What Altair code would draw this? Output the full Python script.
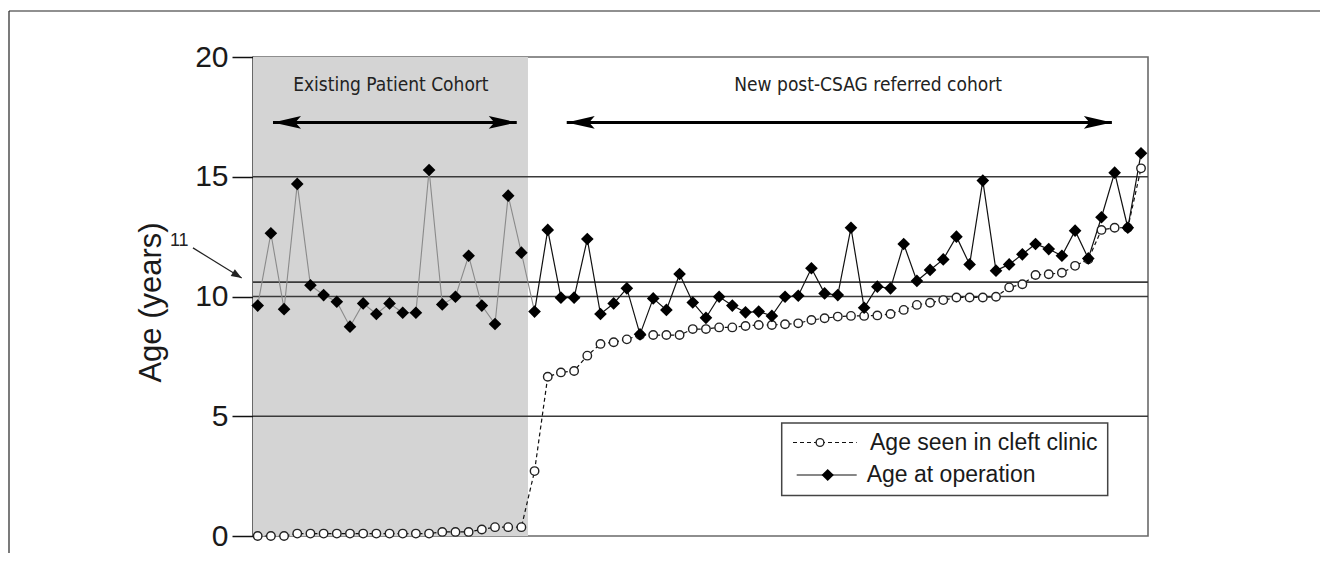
import altair as alt
import pandas as pd

# ---------------- data ----------------
patient = list(range(1, 69))

age_seen_clinic = [
    0.0, 0.0, 0.0, 0.1, 0.1, 0.1, 0.1, 0.1, 0.1, 0.1, 0.1, 0.1, 0.1, 0.1,
    0.17, 0.17, 0.17, 0.27, 0.37, 0.37, 0.37,
    2.71, 6.65, 6.83, 6.89, 7.53, 8.02, 8.09, 8.21, 8.39, 8.39, 8.39, 8.39,
    8.64, 8.64, 8.71, 8.71, 8.77, 8.81, 8.81, 8.84, 8.88, 9.02, 9.09, 9.16,
    9.19, 9.19, 9.21, 9.27, 9.44, 9.65, 9.74, 9.85, 9.96, 9.96, 9.96, 9.99,
    10.38, 10.51, 10.90, 10.93, 10.99, 11.28, 11.55, 12.78, 12.87, 12.87, 15.35,
]

age_at_operation = [
    9.62, 12.64, 9.47, 14.70, 10.47, 10.06, 9.78, 8.74, 9.71, 9.27, 9.71,
    9.32, 9.32, 15.28, 9.67, 9.99, 11.70, 9.62, 8.85, 14.21, 11.83,
    9.37, 12.78, 9.95, 9.95, 12.40, 9.27, 9.71, 10.34, 8.42, 9.92, 9.44,
    10.94, 9.75, 9.11, 9.99, 9.62, 9.34, 9.37, 9.19, 9.99, 10.03, 11.18,
    10.13, 10.06, 12.87, 9.53, 10.41, 10.34, 12.19, 10.65, 11.11, 11.55,
    12.50, 11.34, 14.84, 11.08, 11.34, 11.76, 12.19, 11.98, 11.70, 12.75,
    11.59, 13.31, 15.17, 12.87, 15.98,
]

reference_lines = [5, 10, 15, 10.6]          # horizontal lines (10.6 = the "11" marker line)
existing_cohort_span = [0.6435, 21.5]         # shaded band (patients of the existing cohort)
x_domain = [0.6435, 68.53]
y_ticks = [0, 5, 10, 15, 20]

cohort_labels = ["Existing Patient Cohort", "New post-CSAG referred cohort"]
cohort_label_x = [11.1, 47.3]
cohort_label_y = [18.83, 18.83]
arrow_left = [2.16, 24.44]
arrow_right = [20.65, 65.79]
arrow_y = [17.27, 17.27]

# ---------------- frames ----------------
df = pd.DataFrame({"patient": patient, "clinic": age_seen_clinic, "operation": age_at_operation})
band = pd.DataFrame({"x": [existing_cohort_span[0]], "x2": [existing_cohort_span[1]], "y": [0], "y2": [20]})
hlines = pd.DataFrame({"y": reference_lines})
labels = pd.DataFrame({"label": cohort_labels, "x": cohort_label_x, "y": cohort_label_y})
arrows = pd.DataFrame({"x": arrow_left, "x2": arrow_right, "y": arrow_y})
heads = pd.DataFrame({
    "x": arrow_left + arrow_right,
    "y": arrow_y + arrow_y,
    "side": ["L", "L", "R", "R"],
})
eleven_arrow = pd.DataFrame({"x": [-3.91], "x2": [-0.214], "y": [12.03], "y2": [10.77]})
eleven_head = pd.DataFrame({"x": [-0.214], "y": [10.77]})
eleven_text = pd.DataFrame({"x": [-4.95], "y": [12.3], "t": ["11"]})
one = pd.DataFrame({"a": [0]})

xs = alt.Scale(domain=x_domain, nice=False, zero=False)
ys = alt.Scale(domain=[0, 20], nice=False)

SANS = "Liberation Sans, Arial, sans-serif"
NARROW = "Liberation Sans Narrow, DejaVu Sans Condensed, Arial Narrow, sans-serif"

shade = alt.Chart(band).mark_rect(color="#d4d4d4").encode(
    x=alt.X("x:Q", scale=xs, axis=None), x2="x2:Q",
    y=alt.Y("y:Q", scale=ys, axis=alt.Axis(
        values=y_ticks, title="Age (years)", tickSize=21, labelPadding=4,
        labelFont=SANS, labelFontSize=30, labelColor="#1a1a1a",
        titleFont=SANS, titleFontSize=31, titleFontWeight="normal", titleColor="#1a1a1a",
        titleX=-86, titleY=245, titleBaseline="bottom",
        domainColor="#111", domainWidth=1.5, tickColor="#111", tickWidth=1.5, grid=False,
    )),
    y2="y2:Q",
)

rules = alt.Chart(hlines).mark_rule(color="#3a3a3a", strokeWidth=1.6).encode(
    y=alt.Y("y:Q", scale=ys)
)

base = alt.Chart(df)
clinic_line = base.mark_line(color="#111", strokeWidth=1.2, strokeDash=[4, 3]).encode(
    x=alt.X("patient:Q", scale=xs), y=alt.Y("clinic:Q", scale=ys)
)
op_line_old = base.transform_filter("datum.patient <= 22").mark_line(color="#8a8a8a", strokeWidth=1.1).encode(
    x=alt.X("patient:Q", scale=xs), y=alt.Y("operation:Q", scale=ys)
)
op_line_new = base.transform_filter("datum.patient >= 22").mark_line(color="#111", strokeWidth=1.2).encode(
    x=alt.X("patient:Q", scale=xs), y=alt.Y("operation:Q", scale=ys)
)
clinic_pts = base.mark_point(shape="circle", size=72, filled=False, fill="white", fillOpacity=1,
                             stroke="#222", strokeWidth=1.4, opacity=1).encode(
    x=alt.X("patient:Q", scale=xs), y=alt.Y("clinic:Q", scale=ys)
)
op_pts = base.mark_point(shape="diamond", size=160, filled=True, color="#000", opacity=1).encode(
    x=alt.X("patient:Q", scale=xs), y=alt.Y("operation:Q", scale=ys)
)

label_marks = alt.Chart(labels).mark_text(font=NARROW, fontSize=19, color="#222", baseline="middle").encode(
    x=alt.X("x:Q", scale=xs), y=alt.Y("y:Q", scale=ys), text="label:N"
)
arrow_lines = alt.Chart(arrows).mark_rule(color="#000", strokeWidth=3).encode(
    x=alt.X("x:Q", scale=xs), x2="x2:Q", y=alt.Y("y:Q", scale=ys)
)
LEFT_HEAD = "M0,0 L2,-0.45 L1.6,0 L2,0.45 Z"
RIGHT_HEAD = "M0,0 L-2,-0.45 L-1.6,0 L-2,0.45 Z"
head_l = alt.Chart(heads).transform_filter("datum.side == 'L'").mark_point(
    shape=LEFT_HEAD, size=784, filled=True, color="#000", opacity=1).encode(
    x=alt.X("x:Q", scale=xs), y=alt.Y("y:Q", scale=ys))
head_r = alt.Chart(heads).transform_filter("datum.side == 'R'").mark_point(
    shape=RIGHT_HEAD, size=784, filled=True, color="#000", opacity=1).encode(
    x=alt.X("x:Q", scale=xs), y=alt.Y("y:Q", scale=ys))

e_line = alt.Chart(eleven_arrow).mark_rule(color="#222", strokeWidth=1.2).encode(
    x=alt.X("x:Q", scale=xs), x2="x2:Q", y=alt.Y("y:Q", scale=ys), y2="y2:Q")
e_head = alt.Chart(eleven_head).mark_point(
    shape="M0,0 L-2,-0.75 L-2,0.75 Z", size=110, filled=True, color="#222", opacity=1, angle=31.6).encode(
    x=alt.X("x:Q", scale=xs), y=alt.Y("y:Q", scale=ys))
e_text = alt.Chart(eleven_text).mark_text(font=SANS, fontSize=18, color="#222").encode(
    x=alt.X("x:Q", scale=xs), y=alt.Y("y:Q", scale=ys), text="t:N")

# legend (drawn by hand, pixel placement inside the plot area)
leg_box = alt.Chart(one).mark_rect(fill="white", stroke="#444", strokeWidth=1.5).encode(
    x=alt.value(528.7), x2=alt.value(854.7), y=alt.value(366), y2=alt.value(438.5))
leg_dash = alt.Chart(one).mark_rule(color="#111", strokeWidth=1.2, strokeDash=[4, 3]).encode(
    x=alt.value(540), x2=alt.value(603.7), y=alt.value(385.5))
leg_circ = alt.Chart(one).mark_point(shape="circle", size=60, fill="white", fillOpacity=1,
                                     stroke="#222", strokeWidth=1.4, opacity=1).encode(
    x=alt.value(567), y=alt.value(385.5))
leg_solid = alt.Chart(one).mark_rule(color="#111", strokeWidth=1.2).encode(
    x=alt.value(543.7), x2=alt.value(603.7), y=alt.value(418))
leg_dia = alt.Chart(one).mark_point(shape="diamond", size=150, filled=True, color="#000", opacity=1).encode(
    x=alt.value(574.7), y=alt.value(418))
leg_t1 = alt.Chart(one).mark_text(font=SANS, fontSize=23, color="#1a1a1a", align="left", baseline="middle").encode(
    x=alt.value(617), y=alt.value(385.5), text=alt.value("Age seen in cleft clinic"))
leg_t2 = alt.Chart(one).mark_text(font=SANS, fontSize=23, color="#1a1a1a", align="left", baseline="middle").encode(
    x=alt.value(613.7), y=alt.value(418), text=alt.value("Age at operation"))

# outer figure frame
frame_top = alt.Chart(one).mark_rule(color="#222", strokeWidth=1.2).encode(
    x=alt.value(-244), x2=alt.value(1080), y=alt.value(-46))
frame_left = alt.Chart(one).mark_rule(color="#222", strokeWidth=1.2).encode(
    x=alt.value(-244), y=alt.value(-46), y2=alt.value(510))

chart = alt.layer(
    shade, rules, clinic_line, op_line_old, op_line_new, clinic_pts, op_pts,
    label_marks, arrow_lines, head_l, head_r, e_line, e_head, e_text,
    leg_box, leg_dash, leg_circ, leg_solid, leg_dia, leg_t1, leg_t2,
    frame_top, frame_left,
).properties(
    width=895, height=479,
    autosize=alt.AutoSizeParams(type="none"),
    padding={"left": 245, "top": 49, "right": 172, "bottom": 17},
).configure_view(
    stroke="#6a6a6a", strokeWidth=1.6
)

chart.save("out.html", embed_options={"renderer": "svg", "actions": False})
